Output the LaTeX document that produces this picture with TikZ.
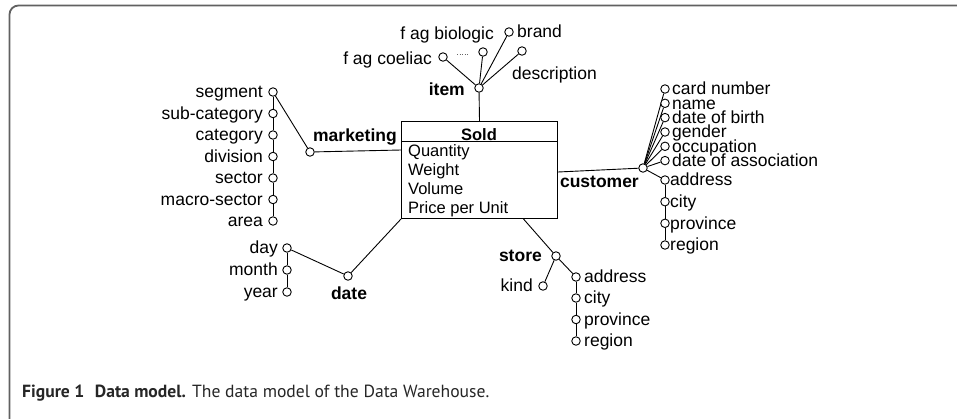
\documentclass[tikz,border=0pt]{standalone}
\usepackage{fontspec}
\setmainfont{Liberation Sans}
\newfontfamily\capfont{PT Sans}
\begin{document}
\begin{tikzpicture}[x=1pt,y=-1pt,
  attr/.style={circle,draw,line width=0.9pt,minimum size=8.5pt,inner sep=0pt,fill=white},
  lbl/.style={inner sep=0pt,yshift=-2.2pt,font=\fontsize{17.5}{17.5}\selectfont},
  dim/.style={inner sep=0pt,yshift=-2.2pt,font=\fontsize{17.5}{17.5}\selectfont\bfseries},
  row/.style={inner sep=0pt,yshift=-3.6pt,font=\fontsize{16.5}{16.5}\selectfont,anchor=mid west},
  link/.style={line width=0.9pt}]
\useasboundingbox (0,0) rectangle (957,418);

% outer frame
\draw[line width=1.8pt,color=black!62,rounded corners=9pt] (9.5,425) -- (9.5,5.5) -- (965,5.5);

% fact table
\node[draw,line width=1pt,minimum width=156pt,minimum height=97pt,anchor=north west,inner sep=0pt] (sold) at (401,121) {};
\draw[line width=1pt] (401,141) -- (557,141);
\node[dim,font=\fontsize{16.5}{16.5}\selectfont\bfseries,yshift=-1pt] (soldtitle) at (479,131) {Sold};
\node[row] (q) at (408,150) {Quantity};
\node[row] (w) at (408,169) {Weight};
\node[row] (v) at (408,188) {Volume};
\node[row] (p) at (408,207) {Price per Unit};

% item dimension
\node[attr] (item) at (479,88) {};
\node[dim,anchor=mid east] (itemL) at (465,91) {item};
\node[attr] (coel) at (443,57) {};
\node[lbl,anchor=mid east] (coelL) at (432,59.5) {f ag coeliac};
\node[attr] (bio) at (483,52) {};
\node[lbl,anchor=mid east] (bioL) at (494,35) {f ag biologic};
\node[attr] (brand) at (509,32) {};
\node[lbl,anchor=mid west] (brandL) at (517,33) {brand};
\node[attr] (descr) at (522,51) {};
\node[lbl,anchor=mid west] (descrL) at (512,75) {description};
\coordinate (dotA) at (457,54);
\coordinate (dotB) at (468,54);
\draw[line width=0.5pt,dotted,black!60] (dotA) -- (dotB);
\draw[link] (sold.north) -- (item);
\foreach \t in {coel,bio,brand,descr} \draw[link] (item) -- (\t);

% marketing dimension
\node[attr] (mkt) at (310,152) {};
\node[dim,anchor=mid east] (mktL) at (397,137) {marketing};
\foreach \n/\y/\t in {m1/92/segment,m2/113.5/sub-category,m3/135/category,m4/156.5/division,m5/178/sector,m6/199.5/macro-sector,m7/221/area}{
  \node[attr] (\n) at (273,\y) {};
  \node[lbl,anchor=mid east] (\n L) at (263,\y+1) {\t};
}
\draw[link] (m1) -- (m2) -- (m3) -- (m4) -- (m5) -- (m6) -- (m7);
\draw[link] (m1) -- (mkt);
\draw[link] (mkt) -- (sold.west |- 0,150);

% date dimension
\node[attr] (date) at (348,276) {};
\node[dim,anchor=mid] (dateL) at (349,295) {date};
\foreach \n/\y/\t in {d1/248/day,d2/270/month,d3/292/year}{
  \node[attr] (\n) at (287,\y) {};
  \node[lbl,anchor=mid east] (\n L) at (278,\y+1) {\t};
}
\draw[link] (d1) -- (d2) -- (d3);
\draw[link] (d1) -- (date);
\draw[link] (sold.south west) -- (date);

% store dimension
\node[attr] (store) at (556,256) {};
\node[dim,anchor=mid east] (storeL) at (542,257) {store};
\node[attr] (kind) at (543,286) {};
\node[lbl,anchor=mid east] (kindL) at (533,287) {kind};
\foreach \n/\y/\t in {s1/277/address,s2/298/city,s3/319.5/province,s4/341/region}{
  \node[attr] (\n) at (576,\y) {};
  \node[lbl,anchor=mid west] (\n L) at (584,\y+1) {\t};
}
\draw[link] (s1) -- (s2) -- (s3) -- (s4);
\draw[link] ([xshift=44pt]sold.south) -- (store);
\draw[link] (store) -- (kind);
\draw[link] (store) -- (s1);

% customer dimension
\node[attr] (cust) at (643,168) {};
\node[dim,anchor=mid east] (custL) at (639,183) {customer};
\foreach \n/\y/\t in {c1/89/card number,c2/103.3/name,c3/117.6/date of birth,c4/132/gender,c5/146.3/occupation,c6/160.6/date of association}{
  \node[attr] (\n) at (665,\y) {};
  \node[lbl,anchor=mid west] (\n L) at (672,\y+1) {\t};
  \draw[link] (cust) -- (\n);
}
\foreach \n/\y/\t in {c7/180/address,c8/201.7/city,c9/223.3/province,c10/245/region}{
  \node[attr] (\n) at (665,\y) {};
  \node[lbl,anchor=mid west] (\n L) at (670,\y+1) {\t};
}
\draw[link] (c7) -- (c8) -- (c9) -- (c10);
\draw[link] (cust) -- (c7);
\draw[link] (sold.east |- 0,172) -- (cust);

% caption
\node[anchor=base west,inner sep=0pt,font=\capfont\fontsize{17.6}{17.6}\selectfont,text=black!85] (cap) at (22,397.5)
  {\textbf{Figure 1}\hspace{0.6em}\textbf{Data model.} The data model of the Data Warehouse.};
\end{tikzpicture}
\end{document}
